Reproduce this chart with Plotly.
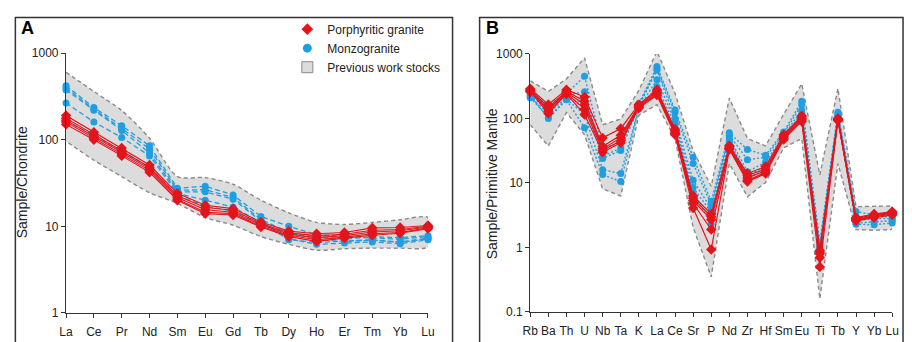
import plotly.graph_objects as go

W, H = 912, 342

# ---------------- Panel A : chondrite-normalised REE ----------------
ree = ["La", "Ce", "Pr", "Nd", "Sm", "Eu", "Gd", "Tb", "Dy", "Ho", "Er", "Tm", "Yb", "Lu"]

ree_porph = [
    [190, 122, 80, 51, 24.0, 17.5, 16.0, 11.2, 8.8, 8.2, 8.5, 9.6, 9.7, 10.2],
    [177, 115, 75, 48, 22.5, 16.5, 15.3, 10.8, 8.4, 7.8, 8.1, 9.0, 9.2, 10.0],
    [168, 108, 71, 46, 21.5, 15.5, 14.5, 10.4, 8.1, 7.4, 7.8, 8.6, 8.9, 9.8],
    [160, 104, 68, 44, 20.5, 14.5, 14.0, 10.0, 7.9, 7.0, 7.5, 8.2, 8.5, 9.6],
    [150, 100, 65, 42, 20.0, 14.0, 13.5, 9.8, 7.6, 6.7, 7.3, 7.9, 8.3, 9.4],
]
ree_monzo = [
    [420, 235, 145, 85, 27.5, 29.0, 23.0, 13.0, 10.0, 8.0, 7.6, 7.4, 7.1, 7.6],
    [395, 225, 135, 78, 26.0, 26.5, 21.5, 12.0, 8.5, 7.0, 6.7, 6.9, 6.6, 7.3],
    [375, 218, 128, 70, 25.0, 25.0, 20.5, 11.5, 7.2, 6.2, 6.4, 6.6, 6.3, 7.0],
    [265, 160, 106, 65, 24.0, 20.0, 16.7, 11.0, 7.0, 6.5, 6.8, 7.0, 6.5, 7.2],
    [165, 112, 74, 48, 23.0, 17.0, 15.0, 10.5, 8.3, 7.6, 7.1, 7.6, 7.4, 7.8],
]
ree_env_upper = [600, 360, 217, 104, 37.5, 36.5, 30.6, 20.0, 14.3, 11.1, 10.5, 11.1, 11.9, 12.6]
ree_env_lower = [96, 58, 37.5, 24.4, 18.4, 12.6, 10.3, 7.6, 6.2, 5.3, 5.5, 5.6, 5.6, 5.8]

# ---------------- Panel B : primitive-mantle-normalised spider ----------------
tr = ["Rb", "Ba", "Th", "U", "Nb", "Ta", "K", "La", "Ce", "Sr", "P", "Nd", "Zr", "Hf",
      "Sm", "Eu", "Ti", "Tb", "Y", "Yb", "Lu"]

tr_porph = [
    [290, 165, 280, 215, 50, 70, 165, 280, 68, 6.3, 3.3, 38, 14.0, 18.0, 56, 110, 0.90, 100, 2.9, 3.3, 3.6],
    [280, 150, 265, 185, 37, 55, 160, 265, 64, 5.8, 3.0, 36, 13.0, 16.5, 53, 105, 0.85, 98, 2.8, 3.2, 3.5],
    [270, 140, 255, 165, 34, 50, 155, 250, 60, 5.3, 2.7, 35, 12.0, 15.5, 51, 100, 0.80, 96, 2.7, 3.1, 3.4],
    [265, 130, 245, 140, 32, 45, 150, 240, 58, 4.8, 1.9, 34, 11.0, 14.5, 49, 95, 0.70, 95, 2.65, 3.0, 3.3],
    [260, 120, 240, 115, 30, 42, 145, 230, 56, 4.1, 0.93, 33, 10.5, 14.0, 47, 90, 0.50, 93, 2.6, 2.9, 3.2],
]
tr_monzo = [
    [240, 160, 245, 450, 35, 42, 170, 640, 135, 25, 5.2, 60, 33, 27, 62, 185, 1.20, 125, 3.6, 3.2, 3.3],
    [225, 140, 230, 260, 26, 35, 160, 590, 125, 20, 4.6, 55, 23, 25, 58, 165, 1.10, 118, 3.0, 3.0, 3.0],
    [215, 120, 210, 170, 24, 32, 155, 560, 100, 11, 4.0, 50, 15, 21, 55, 135, 1.00, 112, 2.6, 2.8, 2.8],
    [210, 105, 200, 115, 16, 14, 145, 400, 90, 8.5, 3.5, 45, 13, 18, 52, 120, 0.95, 108, 2.4, 2.5, 2.6],
    [230, 100, 195, 72, 13.5, 10.5, 140, 310, 80, 7.0, 2.3, 42, 12, 16, 50, 100, 0.90, 105, 2.3, 2.25, 2.4],
]
tr_env_upper = [383, 263, 411, 871, 80, 98, 272, 1100, 246, 31.6, 8.9, 207, 49, 37.5, 116, 346, 13.4, 292, 4.3, 4.3, 4.4]
tr_env_lower = [80, 37.5, 124, 56, 8.1, 6.3, 112, 164, 49, 2.05, 0.35, 20, 6.1, 10.2, 35, 49, 0.16, 20, 1.9, 1.85, 1.9]

# ---------------- styles ----------------
RED = "#e3151c"
BLUE = "#1f9ee2"
FILL = "#dcdcdc"
EDGE = "#8a8a8a"
TXT = "#222222"
FONT = "Liberation Sans, Arial, sans-serif"


def px_x(p):
    return p / W


def px_y(p):
    return 1 - p / H


fig = go.Figure()


def envelope(xcats, upper, lower, xa, ya, shape):
    fig.add_trace(go.Scatter(
        x=list(xcats) + list(xcats)[::-1],
        y=list(upper) + list(lower)[::-1],
        fill="toself", fillcolor=FILL, mode="lines",
        line=dict(color=EDGE, width=1.4, dash="4px,3px", shape=shape, smoothing=0.7),
        xaxis=xa, yaxis=ya, showlegend=False, hoverinfo="skip"))


envelope(ree, ree_env_upper, ree_env_lower, "x", "y", "spline")
envelope(tr, tr_env_upper, tr_env_lower, "x2", "y2", "linear")

for s in ree_monzo:
    fig.add_trace(go.Scatter(x=ree, y=s, mode="lines+markers", xaxis="x", yaxis="y",
                             line=dict(color=BLUE, width=1.3, dash="5px,3px"),
                             marker=dict(symbol="circle", size=7, color=BLUE),
                             cliponaxis=False, showlegend=False))
for s in tr_monzo:
    fig.add_trace(go.Scatter(x=tr, y=s, mode="lines+markers", xaxis="x2", yaxis="y2",
                             line=dict(color=BLUE, width=1.4, dash="2px,2px"),
                             marker=dict(symbol="circle", size=7, color=BLUE),
                             cliponaxis=False, showlegend=False))
for s in ree_porph:
    fig.add_trace(go.Scatter(x=ree, y=s, mode="lines+markers", xaxis="x", yaxis="y",
                             line=dict(color=RED, width=1.1),
                             marker=dict(symbol="diamond", size=8, color=RED),
                             cliponaxis=False, showlegend=False))
for s in tr_porph:
    fig.add_trace(go.Scatter(x=tr, y=s, mode="lines+markers", xaxis="x2", yaxis="y2",
                             line=dict(color=RED, width=1.2),
                             marker=dict(symbol="diamond", size=8, color=RED),
                             cliponaxis=False, showlegend=False))

# legend entries
fig.add_trace(go.Scatter(x=[None], y=[None], mode="markers", name="Porphyritic granite",
                         marker=dict(symbol="diamond", size=9, color=RED), xaxis="x", yaxis="y"))
fig.add_trace(go.Scatter(x=[None], y=[None], mode="markers", name="Monzogranite",
                         marker=dict(symbol="circle", size=9, color=BLUE), xaxis="x", yaxis="y"))
fig.add_trace(go.Scatter(x=[None], y=[None], mode="markers", name="Previous work stocks",
                         marker=dict(symbol="square", size=11, color=FILL,
                                     line=dict(color=EDGE, width=1)), xaxis="x", yaxis="y"))

axis_common = dict(showline=True, linecolor="#333333", linewidth=1.2, ticks="outside",
                   ticklen=4, tickwidth=1, tickcolor="#333333", showgrid=False, zeroline=False,
                   tickfont=dict(family=FONT, size=12, color=TXT))

fig.update_layout(
    width=W, height=H, margin=dict(l=0, r=0, t=0, b=0),
    paper_bgcolor="white", plot_bgcolor="rgba(0,0,0,0)",
    font=dict(family=FONT, color=TXT),
    xaxis=dict(domain=[px_x(59), px_x(427)], type="category", categoryorder="array",
               categoryarray=ree, range=[0, len(ree) - 1], anchor="y", tickangle=0,
               ticklabelstandoff=4, **axis_common),
    yaxis=dict(domain=[px_y(319), px_y(48)], type="log", range=[0, 3], anchor="x",
               tickvals=[1, 10, 100, 1000], ticktext=["1", "10", "100", "1000"], **axis_common),
    xaxis2=dict(domain=[px_x(531), px_x(899)], type="category", categoryorder="array",
                categoryarray=tr, range=[0, len(tr) - 1], anchor="y2", tickangle=0,
                ticklabelstandoff=4, **axis_common),
    yaxis2=dict(domain=[px_y(318), px_y(49)], type="log", range=[-1, 3], anchor="x2",
                tickvals=[0.1, 1, 10, 100, 1000], ticktext=["0.1", "1", "10", "100", "1000"],
                **axis_common),
    legend=dict(x=px_x(284), y=px_y(8), xanchor="left", yanchor="top",
                bgcolor="rgba(0,0,0,0)", font=dict(family=FONT, size=12, color=TXT),
                tracegroupgap=0, itemwidth=30),
    shapes=[
        dict(type="rect", xref="paper", yref="paper", x0=px_x(7.5), x1=px_x(452),
             y0=-0.1, y1=px_y(11), line=dict(color="#333333", width=1.5)),
        dict(type="rect", xref="paper", yref="paper", x0=px_x(479.5), x1=px_x(910),
             y0=-0.1, y1=px_y(11), line=dict(color="#333333", width=1.5)),
    ],
    annotations=[
        dict(text="<b>A</b>", x=px_x(11), y=px_y(22), xref="paper", yref="paper",
             xanchor="left", yanchor="middle", showarrow=False,
             font=dict(family=FONT, size=18, color="#000")),
        dict(text="<b>B</b>", x=px_x(484), y=px_y(22), xref="paper", yref="paper",
             xanchor="left", yanchor="middle", showarrow=False,
             font=dict(family=FONT, size=18, color="#000")),
        dict(text="Sample/Chondrite", x=px_x(14), y=px_y(183), xref="paper", yref="paper",
             xanchor="center", yanchor="middle",
             textangle=-90, showarrow=False, font=dict(family=FONT, size=14, color=TXT)),
        dict(text="Sample/Primitive Mantle", x=px_x(493), y=px_y(184), xref="paper", yref="paper",
             xanchor="center", yanchor="middle",
             textangle=-90, showarrow=False, font=dict(family=FONT, size=14, color=TXT)),
    ],
)

fig.write_html("out.html")
